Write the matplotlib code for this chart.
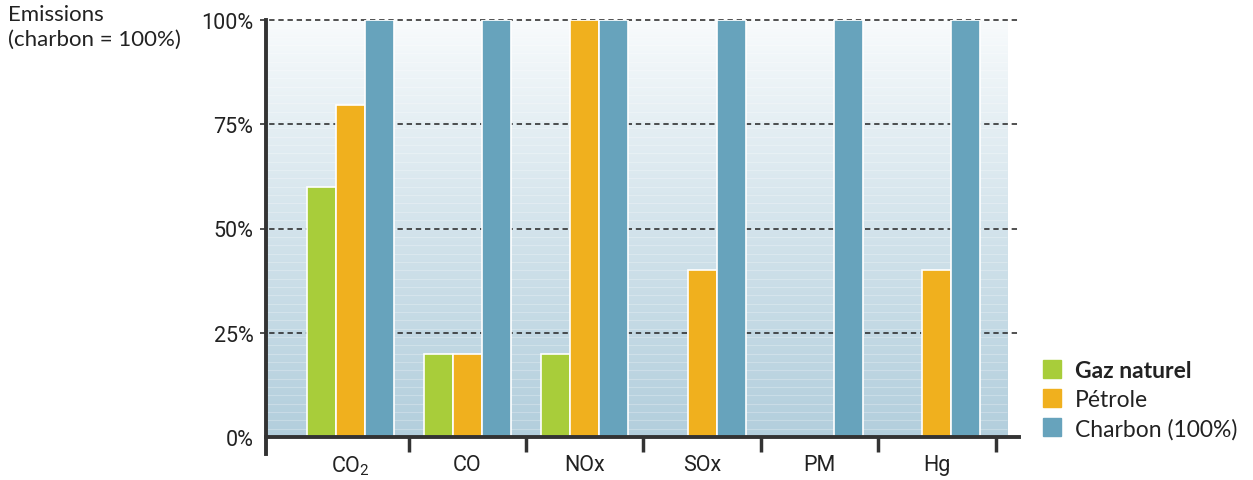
import numpy as np
import matplotlib
matplotlib.use('Agg')
import matplotlib.pyplot as plt
from matplotlib.lines import Line2D

# data (charbon = 100%)
categories = ['CO$_2$', 'CO', 'NOx', 'SOx', 'PM', 'Hg']
gaz = [60, 20, 20, 0, 0, 0]
petrole = [79.5, 20, 100, 40, 0, 40]
charbon = [100, 100, 100, 100, 100, 100]
series_names = ['Gaz naturel', 'Pétrole', 'Charbon (100%)']
yticks = [0, 25, 50, 75, 100]
ytick_labels = ['0%', '25%', '50%', '75%', '100%']

colors = ['#a8cd3a', '#f0b01e', '#67a3bc']
narrow = ['Roboto', 'DejaVu Sans']
plt.rcParams['mathtext.fontset'] = 'custom'
plt.rcParams['mathtext.rm'] = 'Roboto'
plt.rcParams['mathtext.default'] = 'rm'

fig = plt.figure(figsize=(12.53, 4.81), dpi=100)
ax = fig.add_axes([266 / 1253, 1 - 438 / 481, (1019 - 266) / 1253, 417 / 481])

x0, x_bg, x1 = -0.716, 5.60, 5.70
ax.set_xlim(x0, x1)
ax.set_ylim(0, 100)

# gradient background
grad = np.linspace(0, 1, 256).reshape(-1, 1)
top = np.array([0.975, 0.985, 0.99])
bot = np.array([0.70, 0.81, 0.865])
img = top + (bot - top) * grad[::-1] ** 0.9
img = img.reshape(256, 1, 3)
ax.imshow(img, extent=[x0, x_bg, 0, 100], aspect='auto', origin='lower', zorder=0)
# faint stripes
ax.hlines(np.arange(2, 100, 2), x0, x_bg, colors='white', alpha=0.25, lw=0.8, zorder=0.5)

# dashed grid
ax.hlines(yticks[1:], -0.767, x1, colors='#222222', lw=1.1, linestyles=(0, (3.5, 2.5)),
          zorder=1, clip_on=False)

x = np.arange(len(categories))
pitch = 0.247
for i, (vals, c, name) in enumerate(zip([gaz, petrole, charbon], colors, series_names)):
    ax.bar(x + (i - 1) * pitch, vals, width=pitch, color=c, edgecolor='white',
           linewidth=1.2, zorder=2, label=name)

for s in ['top', 'right']:
    ax.spines[s].set_visible(False)
ax.spines['left'].set_linewidth(2.8)
ax.spines['left'].set_color('#333333')
ax.spines['left'].set_bounds(-4, 100)
ax.spines['bottom'].set_linewidth(2.8)
ax.spines['bottom'].set_color('#333333')

ax.set_yticks(yticks)
ax.set_yticklabels(ytick_labels, family=narrow, fontsize=15.5, color='#222222')
ax.tick_params(axis='y', length=0, pad=9)

ax.set_xticks(x)
ax.set_xticklabels(categories, family=narrow, fontsize=15.5, color='#222222')
ax.set_xticks(x + 0.5, minor=True)
ax.tick_params(axis='x', which='major', length=0, pad=12)
ax.tick_params(axis='x', which='minor', length=11, width=2.5, color='#333333', direction='out')

fig.text(8 / 1253, 1 - 5 / 481, 'Emissions\n(charbon = 100%)', ha='left', va='top',
         family=['Lato', 'DejaVu Sans'], fontsize=16, color='#222222', linespacing=1.3)

handles = [Line2D([], [], marker='s', ls='', markersize=13, color=c) for c in colors]
leg = fig.legend(handles, series_names, loc='upper left',
                 bbox_to_anchor=(1029 / 1253, 1 - 350 / 481), frameon=False,
                 prop={'family': ['Lato', 'DejaVu Sans'], 'size': 16.5},
                 handlelength=1.0, handletextpad=0.5, labelspacing=0.33, borderpad=0)
for t in leg.get_texts():
    t.set_color('#222222')
leg.get_texts()[0].set_fontweight('bold')

fig.savefig('out.png', dpi=100)
